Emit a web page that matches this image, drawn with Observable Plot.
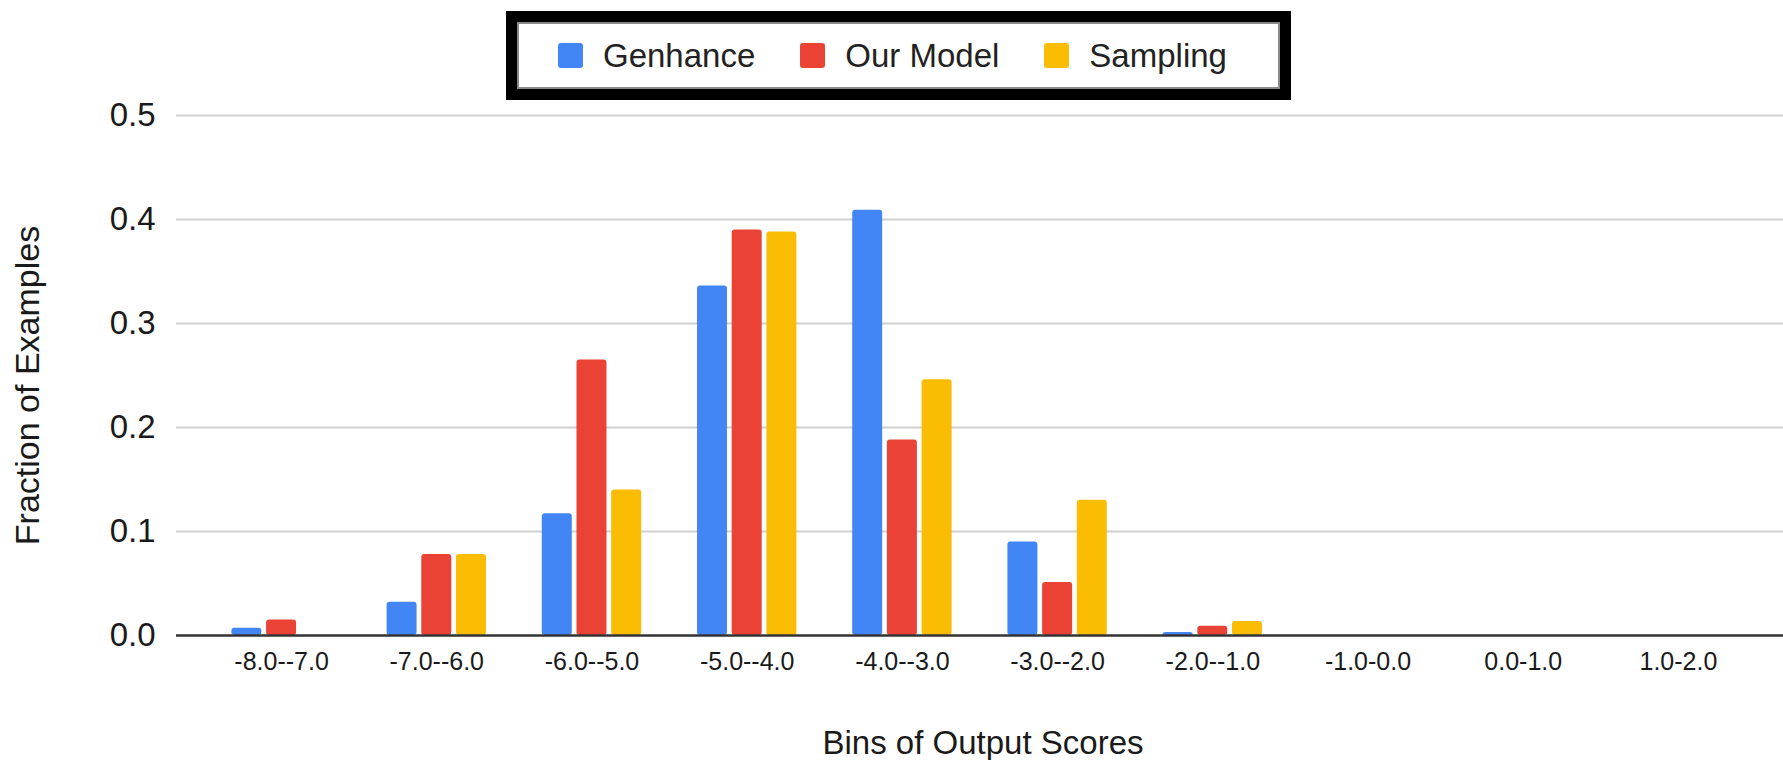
<!DOCTYPE html>
<html>
<head>
<meta charset="utf-8">
<script src="https://cdn.jsdelivr.net/npm/d3@7"></script>
<script src="https://cdn.jsdelivr.net/npm/@observablehq/plot@0.6"></script>
<style>
  html, body { margin: 0; padding: 0; background: #fff; }
  body { width: 1783px; height: 760px; overflow: hidden; font-family: "Liberation Sans", Arial, Helvetica, sans-serif; }
  #legend-wrap { position: relative; height: 90px; z-index: 2; }
  #legend {
    position: absolute; left: 506px; top: 11px; width: 785px; height: 89px;
    box-sizing: border-box; border: 11px solid #000; box-shadow: inset 0 0 0 2px #8a8a8a;
    display: flex; align-items: center; padding-left: 41px; background: #fff;
    font-size: 33px; color: #222; white-space: nowrap;
  }
  .item { display: flex; align-items: center; margin-right: 45px; }
  .sw { width: 25px; height: 25px; border-radius: 3px; margin-right: 20px; }
  #chart svg { display: block; }
</style>
</head>
<body>
<div id="legend-wrap"><div id="legend"></div></div>
<div id="chart"></div>
<script>
const bins = ["-8.0--7.0", "-7.0--6.0", "-6.0--5.0", "-5.0--4.0", "-4.0--3.0", "-3.0--2.0", "-2.0--1.0", "-1.0-0.0", "0.0-1.0", "1.0-2.0"];
const seriesNames = ["Genhance", "Our Model", "Sampling"];
const seriesColors = ["#4285F4", "#EA4335", "#FBBC04"];
const genhance = [0.007, 0.032, 0.117, 0.336, 0.409, 0.090, 0.003, 0, 0, 0];
const ourModel = [0.015, 0.078, 0.265, 0.390, 0.188, 0.051, 0.009, 0, 0, 0];
const sampling = [0, 0.078, 0.140, 0.388, 0.246, 0.130, 0.0135, 0, 0, 0];
const yTicks = [0, 0.1, 0.2, 0.3, 0.4, 0.5];
const yTitle = "Fraction of Examples";
const xTitle = "Bins of Output Scores";

const seriesValues = [genhance, ourModel, sampling];
const rows = [];
bins.forEach((b, i) => seriesNames.forEach((s, j) => rows.push({bin: b, series: s, value: seriesValues[j][i]})));

// legend
const legend = document.getElementById("legend");
seriesNames.forEach((s, j) => {
  const it = document.createElement("div");
  it.className = "item";
  if (j === seriesNames.length - 1) it.style.marginRight = "0";
  const sw = document.createElement("div");
  sw.className = "sw";
  sw.style.background = seriesColors[j];
  const tx = document.createElement("span");
  tx.textContent = s;
  it.appendChild(sw); it.appendChild(tx);
  legend.appendChild(it);
});

// layout
const W = 1783, H = 670, ML = 176, MR = 0, MT = 25, MB = 125;
const padOuter = 0.177;
const step = (W - ML - MR) / (bins.length + 2 * padOuter);
const barW = 30, pitch = 34.7;
const insets = seriesNames.map((s, j) => {
  const left = step / 2 - barW / 2 + (j - 1) * pitch;
  return {left, right: step - left - barW};
});

const chart = Plot.plot({
  width: W, height: H,
  marginTop: MT, marginBottom: MB, marginLeft: ML, marginRight: MR,
  style: {fontFamily: '"Liberation Sans", Arial, Helvetica, sans-serif', color: "#1a1a1a", background: "#fff"},
  x: {domain: bins, paddingInner: 0, paddingOuter: padOuter, align: 0.5, round: false, axis: null},
  y: {domain: [0, 0.5], axis: null},
  color: {domain: seriesNames, range: seriesColors},
  marks: [
    Plot.ruleY(yTicks.filter(t => t > 0), {stroke: "#cfcfcf", strokeWidth: 2}),
    Plot.axisY({ticks: yTicks, tickSize: 0, tickPadding: 21, tickFormat: d3.format(".1f"), fontSize: 33, label: null}),
    Plot.axisX({tickSize: 0, tickPadding: 17, fontSize: 25, label: null}),
    ...seriesNames.map((s, j) => Plot.barY(rows.filter(d => d.series === s), {
      x: "bin", y: "value", fill: "series",
      insetLeft: insets[j].left, insetRight: insets[j].right, rx: 3
    })),
    Plot.ruleY([0], {stroke: "#333", strokeWidth: 2.5}),
    Plot.text([yTitle], {text: d => d, frameAnchor: "left", rotate: -90, dx: -148, dy: 10, fontSize: 34, textAnchor: "middle", lineAnchor: "middle", fill: "#1a1a1a"}),
    Plot.text([xTitle], {text: d => d, frameAnchor: "bottom", dx: 3, dy: 118, fontSize: 33, textAnchor: "middle", lineAnchor: "bottom", fill: "#1a1a1a"})
  ]
});
document.getElementById("chart").appendChild(chart);
</script>
</body>
</html>
